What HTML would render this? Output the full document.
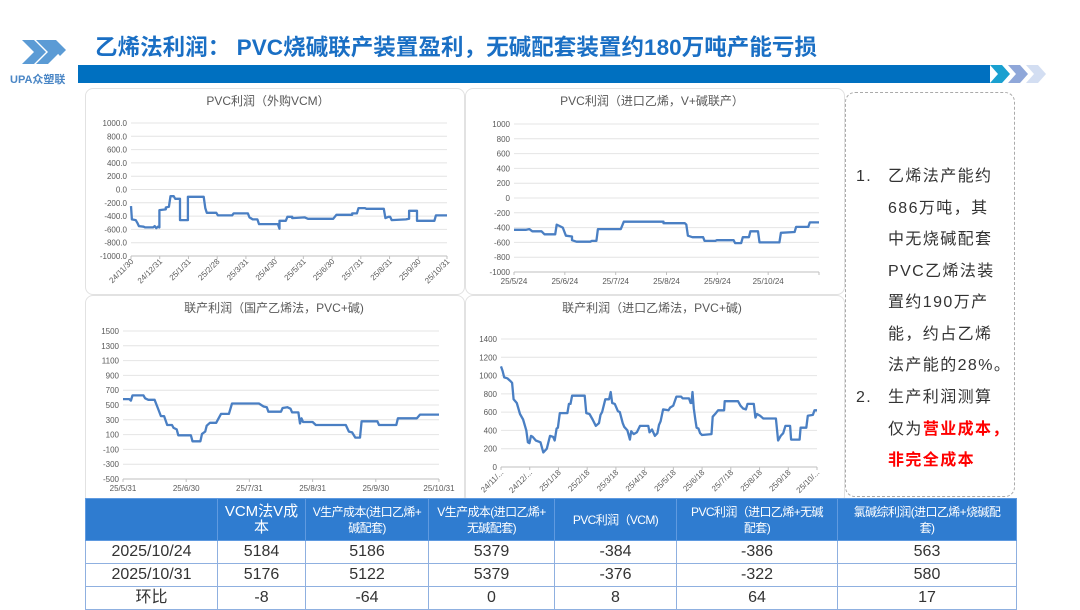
<!DOCTYPE html>
<html><head><meta charset="utf-8"><style>
body{margin:0;width:1080px;height:608px;background:#fff;overflow:hidden;position:relative;font-family:"Liberation Sans","Noto Sans CJK SC",sans-serif}
.abs{position:absolute}
.panel{position:absolute;border:1px solid #e2e2e2;border-radius:8px;background:#fff}
.txt{position:absolute;left:845px;top:92px;width:170px;height:405px;border:1px dashed #aaa;border-radius:10px;box-sizing:border-box}
.li{position:absolute;font-size:16px;color:#333;line-height:31.5px;white-space:nowrap;letter-spacing:1.4px}
table{position:absolute;left:85px;top:498px;width:931px;border-collapse:collapse;table-layout:fixed}
td{border:1px solid #8fb0e0;text-align:center;font-size:16px;color:#333;height:22px;padding:0;line-height:20px;white-space:nowrap;overflow:hidden}
tr.h td{background:#2f7cd0;color:#fff;font-size:12px;line-height:16px;height:41px;border-color:#5f9ae0;letter-spacing:-0.6px}
</style></head><body>
<svg class="abs" style="left:0;top:0" width="1080" height="90">
<g fill="#5b9bd5"><polygon points="22,40 34,40 46,52 34,64 22,64 34,52"/><polygon points="36,40 48,40 60,52 48,64 36,64 48,52"/><polygon points="46,40 56,40 66,50 60,56"/></g>
<text x="10" y="83" font-size="11" fill="#4a86c5" font-weight="bold">UPA众塑联</text>
<rect x="78" y="65" width="912" height="18" fill="#0070c0"/>
<polygon points="990,65 1002,65 1010,74 1002,83 990,83 998,74" fill="#1aa0d0"/>
<polygon points="1008,65 1020,65 1028,74 1020,83 1008,83 1016,74" fill="#8fa7d9"/>
<polygon points="1026,65 1038,65 1046,74 1038,83 1026,83 1034,74" fill="#d3def2"/>
<text x="95" y="55" font-size="22.5" font-weight="bold" fill="#1a6fc4" textLength="722" lengthAdjust="spacing">乙烯法利润：  PVC烧碱联产装置盈利，无碱配套装置约180万吨产能亏损</text>
</svg>
<div class="panel" style="left:85px;top:88px;width:378px;height:205px"></div>
<div class="panel" style="left:465px;top:88px;width:378px;height:205px"></div>
<div class="panel" style="left:85px;top:295px;width:378px;height:207px"></div>
<div class="panel" style="left:465px;top:295px;width:378px;height:207px"></div>
<svg id="ch" class="abs" style="left:0;top:0" width="1080" height="608"></svg>
<div class="txt">
<div class="li" style="left:10px;top:68px">1.</div>
<div class="li" style="left:42px;top:68px">乙烯法产能约<br>686万吨，其<br>中无烧碱配套<br>PVC乙烯法装<br>置约190万产<br>能，约占乙烯<br>法产能的28%。</div>
<div class="li" style="left:10px;top:289px">2.</div>
<div class="li" style="left:42px;top:289px">生产利润测算<br>仅为<b style="color:#f00">营业成本，</b><br><b style="color:#f00">非完全成本</b></div>
</div>
<table>
<colgroup><col style="width:132px"><col style="width:88px"><col style="width:123px"><col style="width:126px"><col style="width:122px"><col style="width:161px"><col style="width:179px"></colgroup>
<tr class="h"><td></td><td style="font-size:15px;letter-spacing:0">VCM法V成<br>本</td><td>V生产成本(进口乙烯+<br>碱配套)</td><td>V生产成本(进口乙烯+<br>无碱配套)</td><td>PVC利润（VCM)</td><td>PVC利润（进口乙烯+无碱<br>配套)</td><td>氯碱综利润(进口乙烯+烧碱配<br>套)</td></tr>
<tr><td>2025/10/24</td><td>5184</td><td>5186</td><td>5379</td><td>-384</td><td>-386</td><td>563</td></tr>
<tr><td>2025/10/31</td><td>5176</td><td>5122</td><td>5379</td><td>-376</td><td>-322</td><td>580</td></tr>
<tr><td>环比</td><td>-8</td><td>-64</td><td>0</td><td>8</td><td>64</td><td>17</td></tr>
</table>
<script>
var S=document.getElementById('ch'),h='';
function chart(o){
 h+='<text x="'+o.tx+'" y="'+o.ty+'" font-size="12" fill="#595959" text-anchor="middle">'+o.title+'</text>';
 var n=o.ticks.length;
 for(var i=0;i<n;i++){var y=o.y0+(o.y1-o.y0)*i/(n-1);
  h+='<line x1="'+o.x0+'" x2="'+o.x1+'" y1="'+y+'" y2="'+y+'" stroke="'+(i==n-1?'#bfbfbf':'#e4e4e4')+'"/>';
  h+='<text x="'+(o.x0-4)+'" y="'+(y+3)+'" font-size="8" fill="#595959" text-anchor="end">'+o.ticks[i]+'</text>';}
 var m=o.xl.length;
 for(var j=0;j<m;j++){var x=o.x0+(o.x1-o.x0)*j/(m-1);
  h+='<line x1="'+x+'" x2="'+x+'" y1="'+o.y1+'" y2="'+(o.y1+3)+'" stroke="#bfbfbf"/>';
  if(o.rot)h+='<text transform="translate('+(x+3)+','+(o.y1+6)+') rotate(-45)" font-size="8" fill="#595959" text-anchor="end">'+o.xl[j]+'</text>';
  else h+='<text x="'+x+'" y="'+(o.y1+12)+'" font-size="8" fill="#595959" text-anchor="middle">'+o.xl[j]+'</text>';}
 var p=[];o.d.forEach(function(a){p.push((o.x0+(o.x1-o.x0)*a[0]).toFixed(1)+','+(o.y0+(o.y1-o.y0)*(o.vmax-a[1])/(o.vmax-o.vmin)).toFixed(1))});
 h+='<polyline points="'+p.join(' ')+'" fill="none" stroke="#4a7fc3" stroke-width="2.3" stroke-linejoin="round"/>';
}
chart({title:'PVC利润（外购VCM）',tx:268,ty:105,x0:131,x1:447,y0:123,y1:256,vmax:1000,vmin:-1000,rot:1,
ticks:['1000.0','800.0','600.0','400.0','200.0','0.0','-200.0','-400.0','-600.0','-800.0','-1000.0'],
xl:['24/11/30','24/12/31','25/1/31','25/2/28','25/3/31','25/4/30','25/5/31','25/6/30','25/7/31','25/8/31','25/9/30','25/10/31'],
d:[[0,-250],[0.003,-450],[0.015,-460],[0.02,-500],[0.025,-550],[0.04,-560],[0.045,-570],[0.07,-570],[0.075,-550],[0.08,-580],[0.085,-560],[0.09,-570],[0.09,-310],[0.11,-300],[0.11,-270],[0.12,-260],[0.125,-100],[0.135,-100],[0.14,-140],[0.155,-140],[0.155,-460],[0.18,-460],[0.18,-110],[0.23,-110],[0.235,-280],[0.24,-350],[0.27,-350],[0.275,-390],[0.32,-390],[0.325,-360],[0.37,-360],[0.375,-420],[0.385,-450],[0.4,-450],[0.405,-520],[0.465,-520],[0.47,-590],[0.47,-470],[0.49,-470],[0.495,-410],[0.51,-410],[0.51,-430],[0.55,-420],[0.56,-440],[0.64,-440],[0.65,-380],[0.7,-380],[0.7,-360],[0.715,-360],[0.72,-280],[0.74,-280],[0.745,-290],[0.8,-290],[0.805,-430],[0.815,-410],[0.82,-410],[0.825,-460],[0.87,-450],[0.88,-440],[0.88,-320],[0.905,-320],[0.905,-470],[0.96,-470],[0.965,-390],[1,-390]]});
chart({title:'PVC利润（进口乙烯，V+碱联产）',tx:652,ty:105,x0:514,x1:819,y0:124,y1:272,vmax:1000,vmin:-1000,
ticks:['1000','800','600','400','200','0','-200','-400','-600','-800','-1000'],
xl:['25/5/24','25/6/24','25/7/24','25/8/24','25/9/24','25/10/24',''],
d:[[0,-430],[0.04,-430],[0.05,-420],[0.06,-450],[0.09,-450],[0.1,-490],[0.135,-490],[0.14,-360],[0.15,-380],[0.16,-400],[0.17,-510],[0.19,-520],[0.19,-570],[0.205,-590],[0.25,-590],[0.255,-580],[0.27,-580],[0.275,-420],[0.35,-420],[0.36,-320],[0.49,-320],[0.49,-330],[0.49,-340],[0.56,-340],[0.565,-360],[0.57,-510],[0.585,-530],[0.62,-530],[0.625,-580],[0.66,-580],[0.665,-570],[0.72,-570],[0.725,-610],[0.745,-610],[0.75,-530],[0.77,-530],[0.775,-450],[0.8,-450],[0.805,-600],[0.87,-600],[0.875,-470],[0.92,-460],[0.925,-390],[0.965,-390],[0.97,-330],[1,-330]]});
chart({title:'联产利润（国产乙烯法，PVC+碱)',tx:274,ty:312,x0:123,x1:439,y0:331,y1:479,vmax:1500,vmin:-500,
ticks:['1500','1300','1100','900','700','500','300','100','-100','-300','-500'],
xl:['25/5/31','25/6/30','25/7/31','25/8/31','25/9/30','25/10/31'],
d:[[0,580],[0.02,580],[0.025,560],[0.03,630],[0.065,630],[0.07,590],[0.08,570],[0.1,570],[0.11,460],[0.12,350],[0.13,350],[0.14,230],[0.155,230],[0.16,190],[0.17,170],[0.175,90],[0.215,90],[0.22,10],[0.245,10],[0.25,110],[0.26,140],[0.265,220],[0.275,260],[0.295,260],[0.3,300],[0.31,380],[0.335,380],[0.345,520],[0.43,520],[0.445,480],[0.455,470],[0.46,410],[0.5,410],[0.505,460],[0.52,470],[0.53,450],[0.535,400],[0.555,400],[0.56,250],[0.565,320],[0.57,270],[0.6,270],[0.61,230],[0.705,230],[0.715,140],[0.725,130],[0.735,60],[0.75,60],[0.755,280],[0.805,280],[0.81,230],[0.865,230],[0.87,320],[0.93,320],[0.94,370],[1,370]]});
chart({title:'联产利润（进口乙烯法，PVC+碱)',tx:652,ty:312,x0:501,x1:817,y0:339,y1:467,vmax:1400,vmin:0,rot:1,
ticks:['1400','1200','1000','800','600','400','200','0'],
xl:['24/11/...','24/12/...','25/1/18','25/2/18','25/3/18','25/4/18','25/5/18','25/6/18','25/7/18','25/8/18','25/9/18','25/10/...'],
d:[[0,1100],[0.005,1050],[0.01,980],[0.02,970],[0.03,940],[0.035,920],[0.04,740],[0.05,700],[0.06,580],[0.07,520],[0.08,400],[0.085,270],[0.09,260],[0.095,340],[0.1,330],[0.11,290],[0.125,270],[0.134,160],[0.145,200],[0.155,340],[0.165,330],[0.17,290],[0.176,420],[0.18,430],[0.186,590],[0.21,590],[0.215,690],[0.22,690],[0.225,780],[0.265,780],[0.27,590],[0.28,580],[0.29,520],[0.3,450],[0.31,480],[0.315,570],[0.32,600],[0.33,740],[0.342,740],[0.347,820],[0.352,700],[0.36,690],[0.37,610],[0.376,600],[0.385,480],[0.39,440],[0.4,400],[0.408,300],[0.412,390],[0.42,360],[0.43,380],[0.44,450],[0.466,450],[0.47,380],[0.478,410],[0.487,340],[0.495,370],[0.5,460],[0.505,500],[0.513,630],[0.53,620],[0.535,650],[0.545,670],[0.555,770],[0.57,770],[0.575,750],[0.595,750],[0.6,700],[0.603,700],[0.606,820],[0.61,640],[0.615,520],[0.619,430],[0.625,420],[0.63,370],[0.636,350],[0.666,360],[0.67,550],[0.68,590],[0.687,620],[0.706,620],[0.708,720],[0.75,720],[0.758,670],[0.766,640],[0.775,630],[0.78,690],[0.8,690],[0.805,540],[0.81,580],[0.82,560],[0.83,530],[0.87,530],[0.877,290],[0.885,340],[0.893,370],[0.9,450],[0.915,450],[0.918,300],[0.945,300],[0.948,430],[0.966,430],[0.971,560],[0.987,570],[0.992,620],[1,620]]});
S.innerHTML=h;
</script>
</body></html>
